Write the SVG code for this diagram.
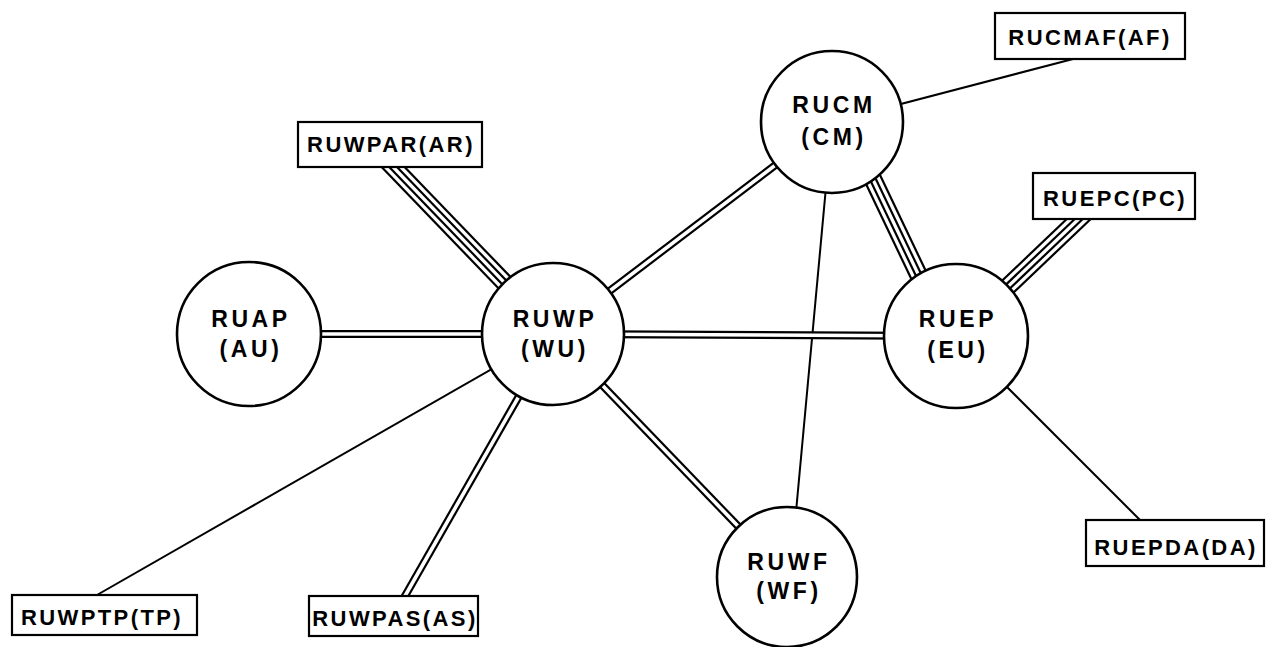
<svg xmlns="http://www.w3.org/2000/svg" width="1266" height="647" viewBox="0 0 1266 647">
<style>
.bg{fill:#fff}
.c{fill:#fff;stroke:#000;stroke-width:2.6}
.b{fill:#fff;stroke:#000;stroke-width:2.2}
.t{font-family:"Liberation Sans",Arial,sans-serif;font-weight:bold;font-size:22px;fill:#000;text-anchor:middle}
.tc{font-size:23px;letter-spacing:3.6px}
.tb{letter-spacing:2.4px}
.s{stroke:#000;stroke-width:2;fill:none}
.dk{stroke:#000;stroke-width:8;fill:none}
.dw{stroke:#fff;stroke-width:3.6;fill:none}
.q{stroke:#000;stroke-width:2.2;fill:none}
</style>
<rect class="bg" x="0" y="0" width="1266" height="647"/>
<g id="connectors">
  <line class="s" x1="1073" y1="59" x2="832" y2="122"/>
  <line class="s" x1="832" y1="122" x2="790" y2="577"/>
  <line class="s" x1="956" y1="336" x2="1150" y2="530"/>
  <line class="s" x1="553" y1="334" x2="90" y2="599"/>
  <g>
    <line class="dk" x1="249" y1="334" x2="553" y2="334"/>
    <line class="dk" x1="553" y1="334" x2="956" y2="336"/>
    <line class="dk" x1="553" y1="334" x2="832" y2="122"/>
    <line class="dk" x1="553" y1="334" x2="787" y2="577"/>
    <line class="dk" x1="555" y1="333" x2="397" y2="610"/>
    <line class="dw" x1="249" y1="334" x2="553" y2="334"/>
    <line class="dw" x1="553" y1="334" x2="956" y2="336"/>
    <line class="dw" x1="553" y1="334" x2="832" y2="122"/>
    <line class="dw" x1="553" y1="334" x2="787" y2="577"/>
    <line class="dw" x1="555" y1="333" x2="397" y2="610"/>
  </g>
  <g>
    <line class="q" x1="559.94" y1="328.27" x2="375.94" y2="137.27"/>
    <line class="q" x1="555.98" y1="332.09" x2="371.98" y2="141.09"/>
    <line class="q" x1="552.02" y1="335.91" x2="368.02" y2="144.91"/>
    <line class="q" x1="548.06" y1="339.73" x2="364.06" y2="148.73"/>
  </g>
  <g>
    <line class="q" x1="853.05" y1="118.45" x2="955.15" y2="332.45"/>
    <line class="q" x1="848.08" y1="120.82" x2="950.18" y2="334.82"/>
    <line class="q" x1="843.12" y1="123.18" x2="945.22" y2="337.18"/>
    <line class="q" x1="838.15" y1="125.55" x2="940.25" y2="339.55"/>
  </g>
  <g>
    <line class="q" x1="950.31" y1="330.03" x2="1095.1" y2="192.0"/>
    <line class="q" x1="954.10" y1="334.01" x2="1098.9" y2="196.0"/>
    <line class="q" x1="957.90" y1="337.99" x2="1102.7" y2="200.0"/>
    <line class="q" x1="961.69" y1="341.97" x2="1106.5" y2="204.0"/>
  </g>
</g>
<g id="RUAP">
  <circle class="c" cx="249" cy="334" r="72"/>
  <text class="t tc" x="251" y="327">RUAP</text>
  <text class="t tc" x="251" y="357">(AU)</text>
</g>
<g id="RUWP">
  <circle class="c" cx="553" cy="334" r="71"/>
  <text class="t tc" x="555" y="327">RUWP</text>
  <text class="t tc" x="555" y="357">(WU)</text>
</g>
<g id="RUEP">
  <circle class="c" cx="956" cy="336" r="72"/>
  <text class="t tc" x="958" y="327">RUEP</text>
  <text class="t tc" x="958" y="358">(EU)</text>
</g>
<g id="RUCM">
  <circle class="c" cx="832" cy="122" r="71"/>
  <text class="t tc" x="834" y="113">RUCM</text>
  <text class="t tc" x="834" y="145">(CM)</text>
</g>
<g id="RUWF">
  <circle class="c" cx="787" cy="577" r="70"/>
  <text class="t tc" x="789" y="570">RUWF</text>
  <text class="t tc" x="789" y="599">(WF)</text>
</g>
<g id="RUWPAR">
  <rect class="b" x="298" y="122" width="184" height="45"/>
  <text class="t tb" x="391" y="152">RUWPAR(AR)</text>
</g>
<g id="RUCMAF">
  <rect class="b" x="995" y="13" width="190" height="46"/>
  <text class="t tb" x="1090" y="45">RUCMAF(AF)</text>
</g>
<g id="RUEPC">
  <rect class="b" x="1033" y="173" width="162" height="46"/>
  <text class="t tb" x="1115" y="206">RUEPC(PC)</text>
</g>
<g id="RUEPDA">
  <rect class="b" x="1086" y="520" width="178" height="46"/>
  <text class="t tb" x="1176" y="555">RUEPDA(DA)</text>
</g>
<g id="RUWPTP">
  <rect class="b" x="12" y="595" width="185" height="40"/>
  <text class="t tb" x="102" y="625">RUWPTP(TP)</text>
</g>
<g id="RUWPAS">
  <rect class="b" x="309" y="596" width="169" height="40"/>
  <text class="t tb" x="395" y="626">RUWPAS(AS)</text>
</g>
</svg>
